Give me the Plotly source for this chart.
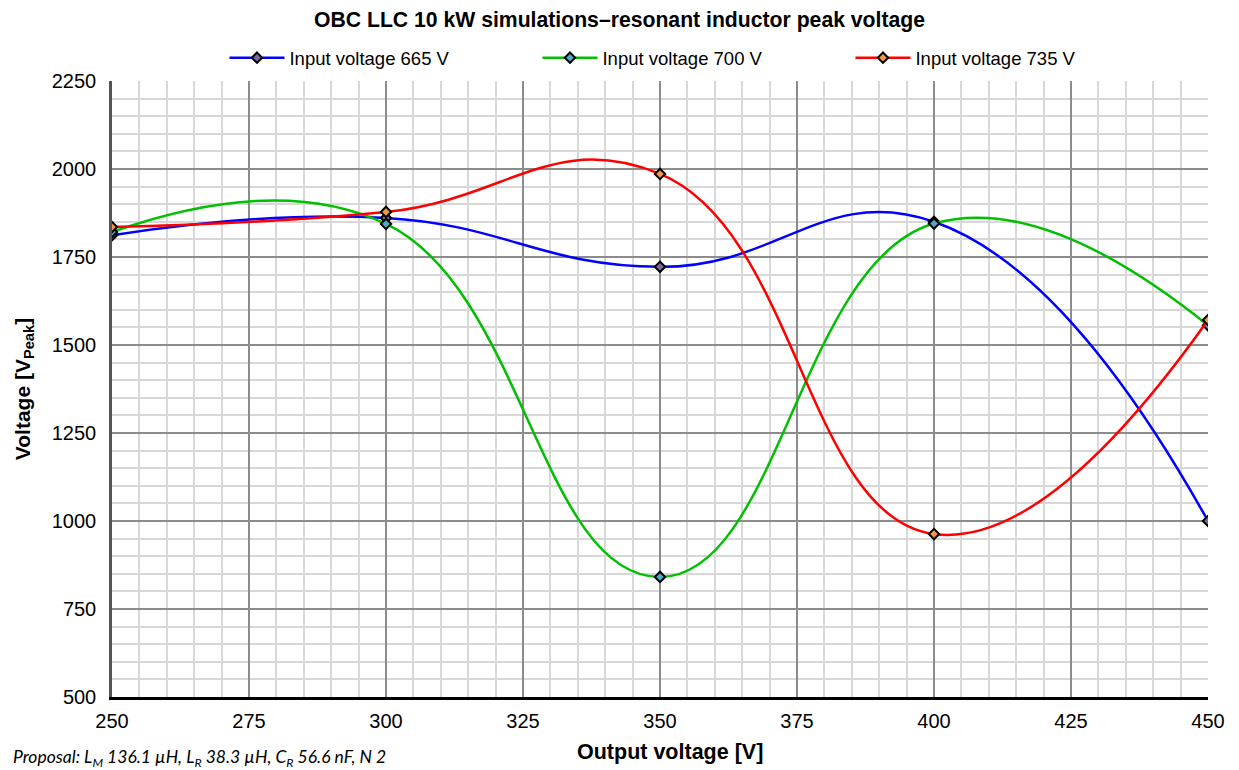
import plotly.graph_objects as go

output_voltage = [250, 300, 350, 400, 450]
v665 = [1812, 1861, 1722, 1850, 1000]
v700 = [1821, 1844, 841, 1845, 1556]
v735 = [1835, 1878, 1986, 963, 1571]

series = [
    ("Input voltage 665 V", v665, "#0000FF", "#8064A2"),
    ("Input voltage 700 V", v700, "#00C000", "#4BACC6"),
    ("Input voltage 735 V", v735, "#FF0000", "#F79646"),
]

fig = go.Figure()
for name, vals, col, fill in series:
    fig.add_trace(go.Scatter(
        x=output_voltage, y=vals, name=name, mode="lines+markers",
        line=dict(color=col, width=2.5, shape="spline", smoothing=1.3),
        marker=dict(symbol="diamond", size=8, color=fill, line=dict(color="black", width=2)),
    ))

font = "Liberation Sans, Arial, sans-serif"
fig.update_layout(
    width=1239, height=770,
    margin=dict(l=112, r=31, t=81, b=73),
    paper_bgcolor="white", plot_bgcolor="white",
    font=dict(family=font, size=20, color="black"),
    title=dict(text="<b>OBC LLC 10 kW simulations\u2013resonant inductor peak voltage</b>",
               x=0.5, xanchor="center", y=0.975, yanchor="middle", font=dict(size=21.2)),
    legend=dict(orientation="h", x=0.531, xanchor="center", y=1.037, yanchor="middle",
                font=dict(size=18.5), itemwidth=55, entrywidth=243, bgcolor="rgba(0,0,0,0)"),
    showlegend=True,
)
fig.update_xaxes(
    range=[250, 450], dtick=25, tick0=250, showgrid=True, gridcolor="#8c8c8c", gridwidth=2,
    minor=dict(dtick=5, showgrid=True, gridcolor="#d8d8d8", gridwidth=1.5),
    showline=True, linecolor="black", linewidth=2.5, zeroline=False, ticks="",
    ticklabelstandoff=4, automargin=False,
)
fig.update_yaxes(
    range=[500, 2250], dtick=250, tick0=500, showgrid=True, gridcolor="#8c8c8c", gridwidth=2,
    minor=dict(dtick=50, showgrid=True, gridcolor="#d8d8d8", gridwidth=1.5),
    showline=True, linecolor="#555555", linewidth=2.5, zeroline=False, ticks="",
    ticklabelstandoff=9,
    title=dict(text="<b>Voltage [V<sub>Peak</sub>]</b>", font=dict(size=21), standoff=16),
)
fig.add_annotation(
    text="<b>Output voltage [V]</b>",
    xref="paper", yref="paper", x=0.509, y=-0.0893, xanchor="center", yanchor="middle",
    showarrow=False, font=dict(family=font, size=21.5),
)
fig.add_annotation(
    text="<i>Proposal: L<sub>M</sub> 136.1 \u00b5H, L<sub>R</sub> 38.3 \u00b5H, C<sub>R</sub> 56.6 nF, N 2</i>",
    xref="paper", yref="paper", x=-0.092, y=-0.099, xanchor="left", yanchor="middle",
    showarrow=False, font=dict(family="Lato, Carlito, sans-serif", size=17.5),
)
fig.write_html("out.html")
